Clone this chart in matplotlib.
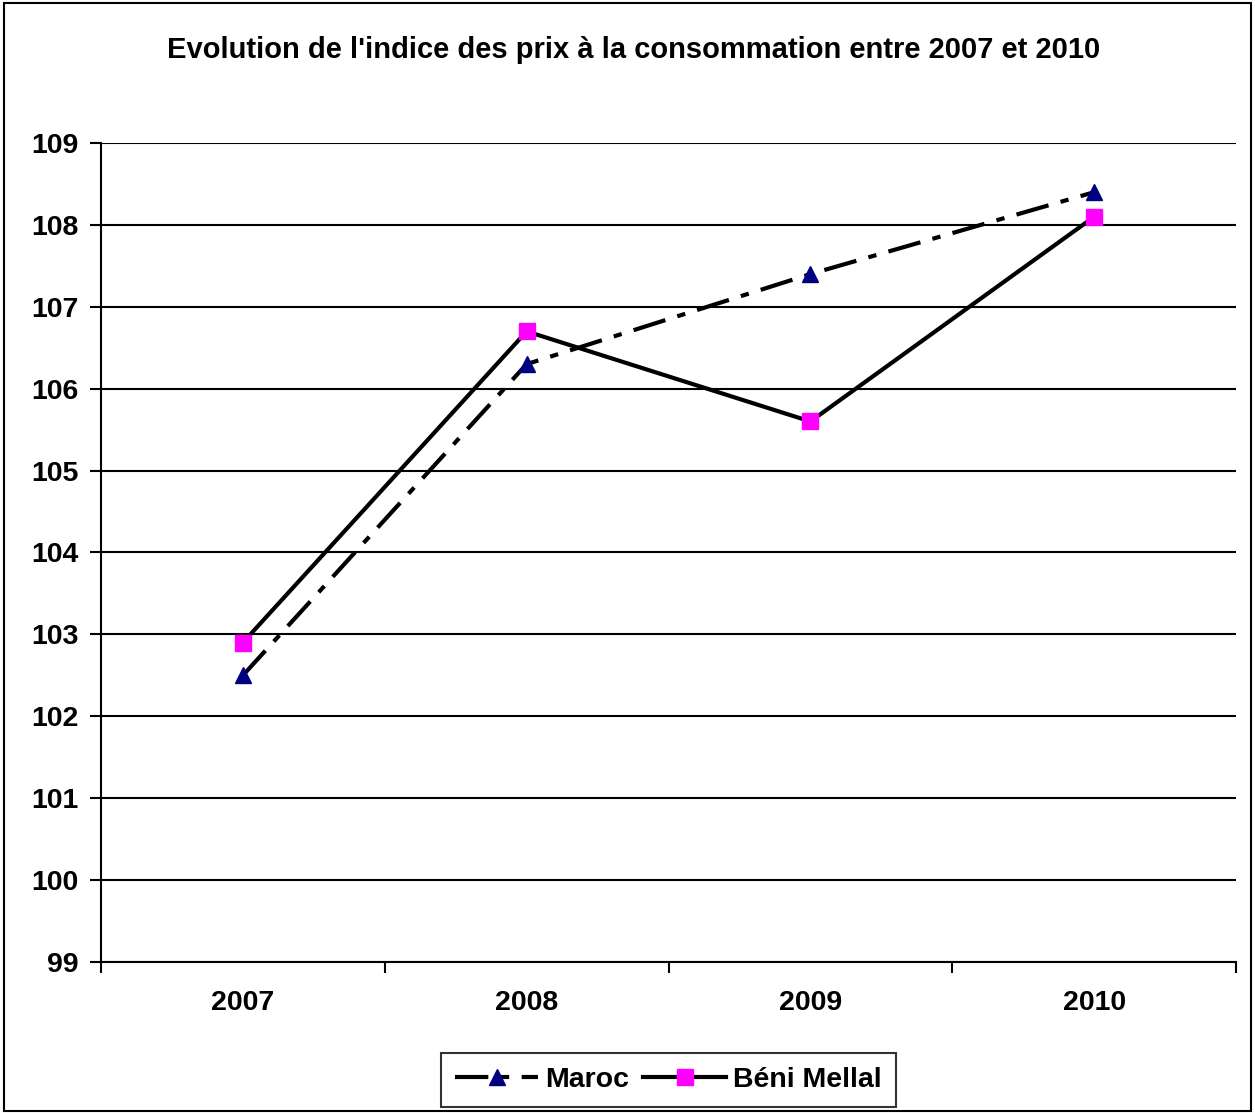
import matplotlib
matplotlib.use("Agg")
import matplotlib.pyplot as plt
from matplotlib.patches import Rectangle

years = ["2007", "2008", "2009", "2010"]
maroc = [102.5, 106.3, 107.4, 108.4]
beni_mellal = [102.9, 106.7, 105.6, 108.1]
y_ticks = [99, 100, 101, 102, 103, 104, 105, 106, 107, 108, 109]
title = "Evolution de l'indice des prix à la consommation entre 2007 et 2010"

plt.rcParams['font.family'] = ['Liberation Sans', 'DejaVu Sans']
plt.rcParams['font.weight'] = 'bold'

fig = plt.figure(figsize=(12.55, 11.13), dpi=100)
ax = fig.add_axes([0.0805, 0.1357, 0.9044, 0.7358])

x = list(range(len(years)))
ax.plot(x, maroc, color='black', lw=3, dashes=(8, 3, 2, 3), dash_capstyle='butt',
        marker='^', markersize=11, markerfacecolor='#000080', markeredgecolor='#000080',
        label='Maroc', zorder=3)
ax.plot(x, beni_mellal, color='black', lw=3, marker='s', markersize=12,
        markerfacecolor='#FF00FF', markeredgecolor='#FF00FF', label='Béni Mellal', zorder=4)

ax.set_xlim(-0.5, len(years) - 0.5)
ax.set_ylim(y_ticks[0], y_ticks[-1])
ax.set_yticks(y_ticks)
ax.set_yticklabels([str(v) for v in y_ticks], fontsize=20.5, fontweight='bold')
ax.set_xticks(x)
ax.set_xticklabels(years, fontsize=20.5, fontweight='bold')
ax.set_xticks([i - 0.5 for i in range(len(years) + 1)], minor=True)
ax.tick_params(axis='x', which='major', length=0, pad=20)
ax.tick_params(axis='x', which='minor', length=8, width=1.5, direction='out')
ax.tick_params(axis='y', length=8, width=1.5, direction='out', pad=8)

for v in y_ticks:
    ax.axhline(v, color='black', lw=1.5, zorder=1)
ax.spines['top'].set_visible(False)
ax.spines['right'].set_visible(False)
ax.spines['left'].set_linewidth(1.5)
ax.spines['bottom'].set_linewidth(1.5)

fig.text(0.505, 0.955, title, ha='center', va='center', fontsize=21, fontweight='bold')

leg = ax.legend(loc='upper center', bbox_to_anchor=(0.5, -0.111), ncol=2, frameon=True,
                fancybox=False, edgecolor='black', fontsize=20.5, handlelength=2.9,
                handletextpad=0.25, columnspacing=0.5, borderpad=0.5, borderaxespad=0)
leg.get_frame().set_linewidth(1.5)
for t in leg.get_texts():
    t.set_fontweight('bold')

fig.patches.append(Rectangle((0.003, 0.002), 0.994, 0.995, transform=fig.transFigure,
                             fill=False, edgecolor='black', lw=1.5))

fig.savefig('out.png', dpi=100)
